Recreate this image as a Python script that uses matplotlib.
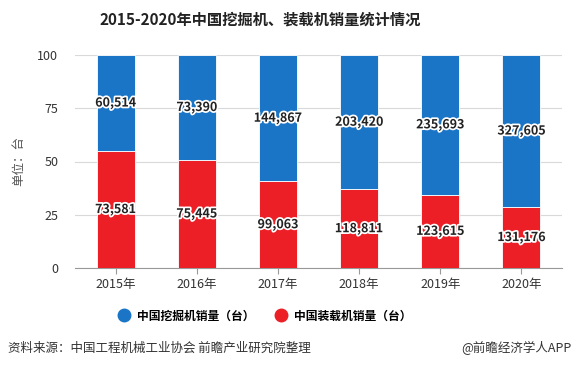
import matplotlib
matplotlib.use("Agg")
import matplotlib.pyplot as plt
import matplotlib.patheffects as pe
from matplotlib.lines import Line2D
import numpy as np

plt.rcParams['font.family'] = ['Noto Sans CJK SC', 'DejaVu Sans']

years = ['2015年', '2016年', '2017年', '2018年', '2019年', '2020年']
excavator = [60514, 73390, 144867, 203420, 235693, 327605]
loader = [73581, 75445, 99063, 118811, 123615, 131176]
yticks = [0, 25, 50, 75, 100]

blue = '#1b75c6'
red = '#ec1f26'

exc = np.array(excavator, dtype=float)
lod = np.array(loader, dtype=float)
tot = exc + lod
lod_p = lod / tot * 100
exc_p = exc / tot * 100

fig = plt.figure(figsize=(5.76, 3.68), dpi=100)
ax = fig.add_axes([75/576, 1-268/368, 487/576, (268-55)/368])

x = np.arange(len(years))
w = 0.47
ax.bar(x, lod_p, width=w, color=red, edgecolor='white', linewidth=0.6, zorder=3)
ax.bar(x, exc_p, width=w, bottom=lod_p, color=blue, edgecolor='white', linewidth=0.6, zorder=3)

stroke = [pe.withStroke(linewidth=2.5, foreground='white')]
for i in range(len(years)):
    ax.text(x[i], lod_p[i] / 2, f'{loader[i]:,}', ha='center', va='center', fontsize=9,
            fontweight='bold', color='#222222', path_effects=stroke, zorder=5)
    ax.text(x[i], lod_p[i] + exc_p[i] / 2, f'{excavator[i]:,}', ha='center', va='center', fontsize=9,
            fontweight='bold', color='#222222', path_effects=stroke, zorder=5)

ax.set_xlim(-0.5, len(years) - 0.5)
ax.set_ylim(0, 100)
ax.set_yticks(yticks)
ax.set_xticks(x)
ax.set_xticklabels(years)
ax.tick_params(axis='y', length=0, labelsize=9, colors='#333333', pad=12)
ax.tick_params(axis='x', length=4, color='#999999', labelsize=9, colors='#333333')
ax.yaxis.grid(True, color='#d9d9d9', linewidth=0.8, zorder=0)
for s in ['top', 'right', 'left']:
    ax.spines[s].set_visible(False)
ax.spines['bottom'].set_color('#999999')
ax.set_ylabel('单位：台', fontsize=9, color='#555555')
ax.yaxis.set_label_coords(-0.103, 0.5)

fig.text(260/576, 1 - 20/368, '2015-2020年中国挖掘机、装载机销量统计情况', ha='center', va='center',
         fontsize=11, fontweight='bold', color='#222222')

h = [Line2D([], [], marker='o', linestyle='', markersize=9, color=blue),
     Line2D([], [], marker='o', linestyle='', markersize=9, color=red)]
fig.legend(h, ['中国挖掘机销量（台）', '中国装载机销量（台）'], loc='center', ncol=2,
           bbox_to_anchor=(262/576, 1 - 316/368), frameon=False,
           handletextpad=0.1, columnspacing=1.2, prop={'weight': 'bold', 'size': 8.5})

fig.text(8/576, 1 - 348/368, '资料来源：中国工程机械工业协会 前瞻产业研究院整理', ha='left', va='center',
         fontsize=9, color='#333333')
fig.text(1 - 4/576, 1 - 348/368, '@前瞻经济学人APP', ha='right', va='center',
         fontsize=9, color='#333333')

fig.savefig('out.png', dpi=100)
